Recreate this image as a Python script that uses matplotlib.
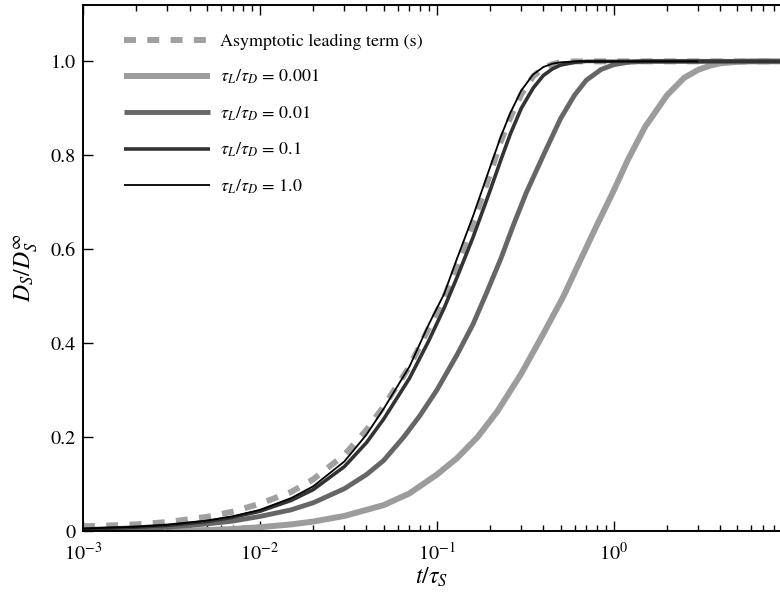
import matplotlib
matplotlib.use('Agg')
import matplotlib.pyplot as plt
from matplotlib.ticker import FixedLocator, FixedFormatter, LogLocator, NullFormatter

plt.rcParams['font.family'] = 'STIXGeneral'
plt.rcParams['mathtext.fontset'] = 'stix'

# values: t/tau_S and D_S/D_S^inf for each curve
t_asym = [0.001, 0.0015, 0.002, 0.003, 0.005, 0.007, 0.01, 0.015, 0.02, 0.03, 0.04,
          0.05, 0.07, 0.09, 0.11, 0.13, 0.16, 0.2, 0.23, 0.26, 0.3, 0.35, 0.4, 0.45,
          0.5, 0.6, 0.8, 1.0, 9.0]
d_asym = [0.010, 0.012, 0.014, 0.019, 0.030, 0.041, 0.058, 0.083, 0.110, 0.162, 0.215,
          0.265, 0.350, 0.432, 0.497, 0.565, 0.655, 0.760, 0.830, 0.880, 0.930, 0.968,
          0.986, 0.994, 0.998, 1.0, 1.0, 1.0, 1.0]

t_001 = [0.003, 0.005, 0.007, 0.01, 0.015, 0.02, 0.03, 0.05, 0.07, 0.1, 0.13, 0.17,
         0.22, 0.3, 0.4, 0.52, 0.65, 0.8, 1.0, 1.2, 1.5, 2.0, 2.5, 3.0, 3.5, 4.0, 5.0,
         6.0, 9.0]
d_001 = [0.0, 0.002, 0.004, 0.008, 0.014, 0.020, 0.032, 0.055, 0.080, 0.120, 0.155,
         0.200, 0.255, 0.335, 0.420, 0.500, 0.578, 0.650, 0.725, 0.790, 0.860, 0.928,
         0.965, 0.982, 0.991, 0.996, 0.999, 1.0, 1.0]

t_01 = [0.001, 0.0015, 0.002, 0.003, 0.005, 0.007, 0.01, 0.015, 0.02, 0.03, 0.04, 0.05,
        0.065, 0.08, 0.1, 0.13, 0.16, 0.19, 0.23, 0.27, 0.32, 0.4, 0.5, 0.6, 0.7, 0.85,
        1.0, 1.2, 1.5, 9.0]
d_01 = [0.0, 0.002, 0.004, 0.008, 0.015, 0.021, 0.031, 0.045, 0.060, 0.090, 0.120,
        0.150, 0.200, 0.245, 0.300, 0.375, 0.440, 0.505, 0.580, 0.650, 0.720, 0.800,
        0.878, 0.928, 0.960, 0.983, 0.993, 0.998, 1.0, 1.0]

t_1 = [0.001, 0.002, 0.003, 0.005, 0.007, 0.01, 0.015, 0.02, 0.03, 0.04, 0.05, 0.07,
       0.09, 0.11, 0.13, 0.16, 0.2, 0.23, 0.26, 0.3, 0.35, 0.4, 0.45, 0.5, 0.6, 0.7,
       0.9, 9.0]
d_1 = [0.004, 0.008, 0.012, 0.020, 0.029, 0.042, 0.065, 0.088, 0.137, 0.188, 0.238,
       0.325, 0.405, 0.475, 0.540, 0.625, 0.725, 0.790, 0.845, 0.900, 0.943, 0.970,
       0.984, 0.992, 0.998, 1.0, 1.0, 1.0]

t_10 = [0.001, 0.002, 0.003, 0.005, 0.007, 0.01, 0.015, 0.02, 0.03, 0.04, 0.05, 0.07,
        0.09, 0.11, 0.13, 0.16, 0.2, 0.23, 0.26, 0.3, 0.35, 0.4, 0.45, 0.5, 0.6, 0.8,
        3.0]
d_10 = [0.005, 0.009, 0.013, 0.022, 0.031, 0.045, 0.070, 0.095, 0.148, 0.205, 0.260,
        0.350, 0.440, 0.505, 0.580, 0.670, 0.775, 0.840, 0.890, 0.938, 0.972, 0.988,
        0.995, 0.998, 1.0, 1.0, 1.0]

labels = ['Asymptotic leading term (s)', r'$\tau_L/\tau_D$ = 0.001',
          r'$\tau_L/\tau_D$ = 0.01', r'$\tau_L/\tau_D$ = 0.1', r'$\tau_L/\tau_D$ = 1.0']

fig = plt.figure(figsize=(7.8, 5.97), dpi=100)
ax = fig.add_axes([0.1064, 0.1106, 0.8936, 0.881])

ax.plot(t_asym, d_asym, color='#a0a0a0', lw=4.3, dashes=(2.0, 1.9), label=labels[0])
ax.plot(t_001, d_001, color='#9c9c9c', lw=4.3, solid_capstyle='butt', label=labels[1])
ax.plot(t_01, d_01, color='#666666', lw=3.5, solid_capstyle='butt', label=labels[2])
ax.plot(t_1, d_1, color='#333333', lw=2.6, solid_capstyle='butt', label=labels[3])
ax.plot(t_10, d_10, color='black', lw=1.3, solid_capstyle='butt', label=labels[4])

ax.set_xscale('log')
ax.set_xlim(1e-3, 8.7)
ax.set_ylim(0, 1.12)

ax.yaxis.set_major_locator(FixedLocator([0, 0.2, 0.4, 0.6, 0.8, 1.0]))
ax.yaxis.set_major_formatter(FixedFormatter(['0', '0.2', '0.4', '0.6', '0.8', '1.0']))
ax.xaxis.set_major_locator(LogLocator(base=10, numticks=10))
ax.xaxis.set_minor_locator(LogLocator(base=10, subs=range(2, 10), numticks=20))
ax.xaxis.set_minor_formatter(NullFormatter())

ax.spines['right'].set_visible(False)
for s in ['left', 'bottom', 'top']:
    ax.spines[s].set_linewidth(1.4)
ax.tick_params(which='both', direction='in', top=True, right=False, labelsize=14.5,
               width=1.0)
ax.tick_params(which='major', length=7)
ax.tick_params(which='minor', length=4)
ax.tick_params(axis='x', pad=8)
ax.tick_params(axis='y', pad=5)

ax.set_xlabel(r'$t/\tau_S$', fontsize=17, labelpad=1)
ax.set_ylabel(r'$D_S/D_S^{\infty}$', fontsize=17, labelpad=8)

ax.legend(loc='upper left', bbox_to_anchor=(0.035, 0.977), frameon=False, fontsize=13,
          handlelength=4.8, handletextpad=0.55, labelspacing=1.0)

fig.savefig('out.png', dpi=100)
